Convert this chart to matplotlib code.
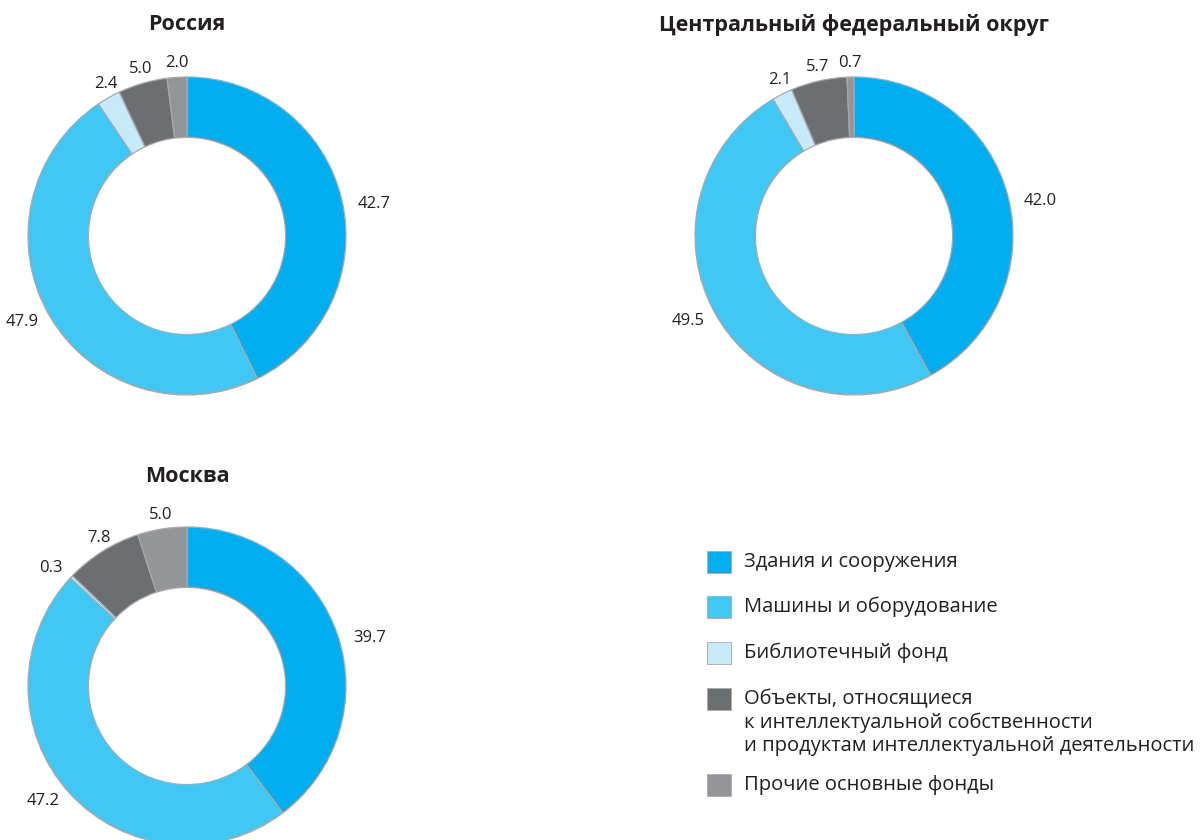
import numpy as np
import matplotlib
matplotlib.use("Agg")
import matplotlib.pyplot as plt
from matplotlib.patches import Rectangle

plt.rcParams['font.family'] = ['Open Sans', 'DejaVu Sans']

# Structure of fixed assets, %
categories = [
    "Здания и сооружения",
    "Машины и оборудование",
    "Библиотечный фонд",
    "Объекты, относящиеся\nк интеллектуальной собственности\nи продуктам интеллектуальной деятельности",
    "Прочие основные фонды",
]
colors = ["#00AEEF", "#40C7F4", "#C7E9F9", "#6D6E72", "#939598"]

regions = ["Россия", "Центральный федеральный округ", "Москва"]
russia = [42.7, 47.9, 2.4, 5.0, 2.0]
cfd = [42.0, 49.5, 2.1, 5.7, 0.7]
moscow = [39.7, 47.2, 0.3, 7.8, 5.0]

W, H = 1203, 840
fig = plt.figure(figsize=(W / 100, H / 100), dpi=100)

R_PX = 159          # outer radius in pixels
LIM = 1.3
TEXT = "#231F20"


def donut(cx, cy, title_y, values, title):
    size = 2 * LIM * R_PX
    ax = fig.add_axes([(cx - size / 2) / W, 1 - (cy + size / 2) / H, size / W, size / H])
    ax.pie(values, colors=colors, startangle=90, counterclock=False, radius=1,
           wedgeprops=dict(width=0.38, edgecolor="#A7A9AC", linewidth=0.9))
    ax.set_xlim(-LIM, LIM)
    ax.set_ylim(-LIM, LIM)
    ax.set_aspect('equal')
    ax.axis('off')
    cum = np.cumsum([0] + list(values))
    total = cum[-1]
    for v, c0 in zip(values, cum[:-1]):
        mid = np.deg2rad(90 - (c0 + v / 2) / total * 360)
        cs, sn = np.cos(mid), np.sin(mid)
        if sn > 0.7:
            r, ha, va = 1.04, 'center', 'bottom'
        elif cs >= 0:
            r, ha, va = 1.1, 'left', 'top'
        else:
            r, ha, va = 1.08, 'right', 'center'
        ax.text(r * cs, r * sn, f"{v:.1f}", ha=ha, va=va, fontsize=12, color=TEXT)
    fig.text(cx / W, 1 - title_y / H, title,
             ha='center', va='center', fontsize=15.5, fontweight='bold', color=TEXT)


donut(187, 236, 25, russia, regions[0])
donut(854, 236, 25, cfd, regions[1])
donut(187, 686, 476, moscow, regions[2])

# Legend drawn in pixel coordinates
lg = fig.add_axes([0, 0, 1, 1], zorder=-1)
lg.set_xlim(0, W)
lg.set_ylim(H, 0)
lg.axis('off')
item_y = [562, 607, 653, 699, 785]
for y, col, lab in zip(item_y, colors, categories):
    lg.add_patch(Rectangle((707, y - 11), 24, 22, facecolor=col, edgecolor="#A7A9AC", linewidth=0.6))
    lg.text(744, y - 10, lab, ha='left', va='top', fontsize=14.5, color=TEXT, linespacing=1.2)

fig.savefig("out.png", dpi=100)
